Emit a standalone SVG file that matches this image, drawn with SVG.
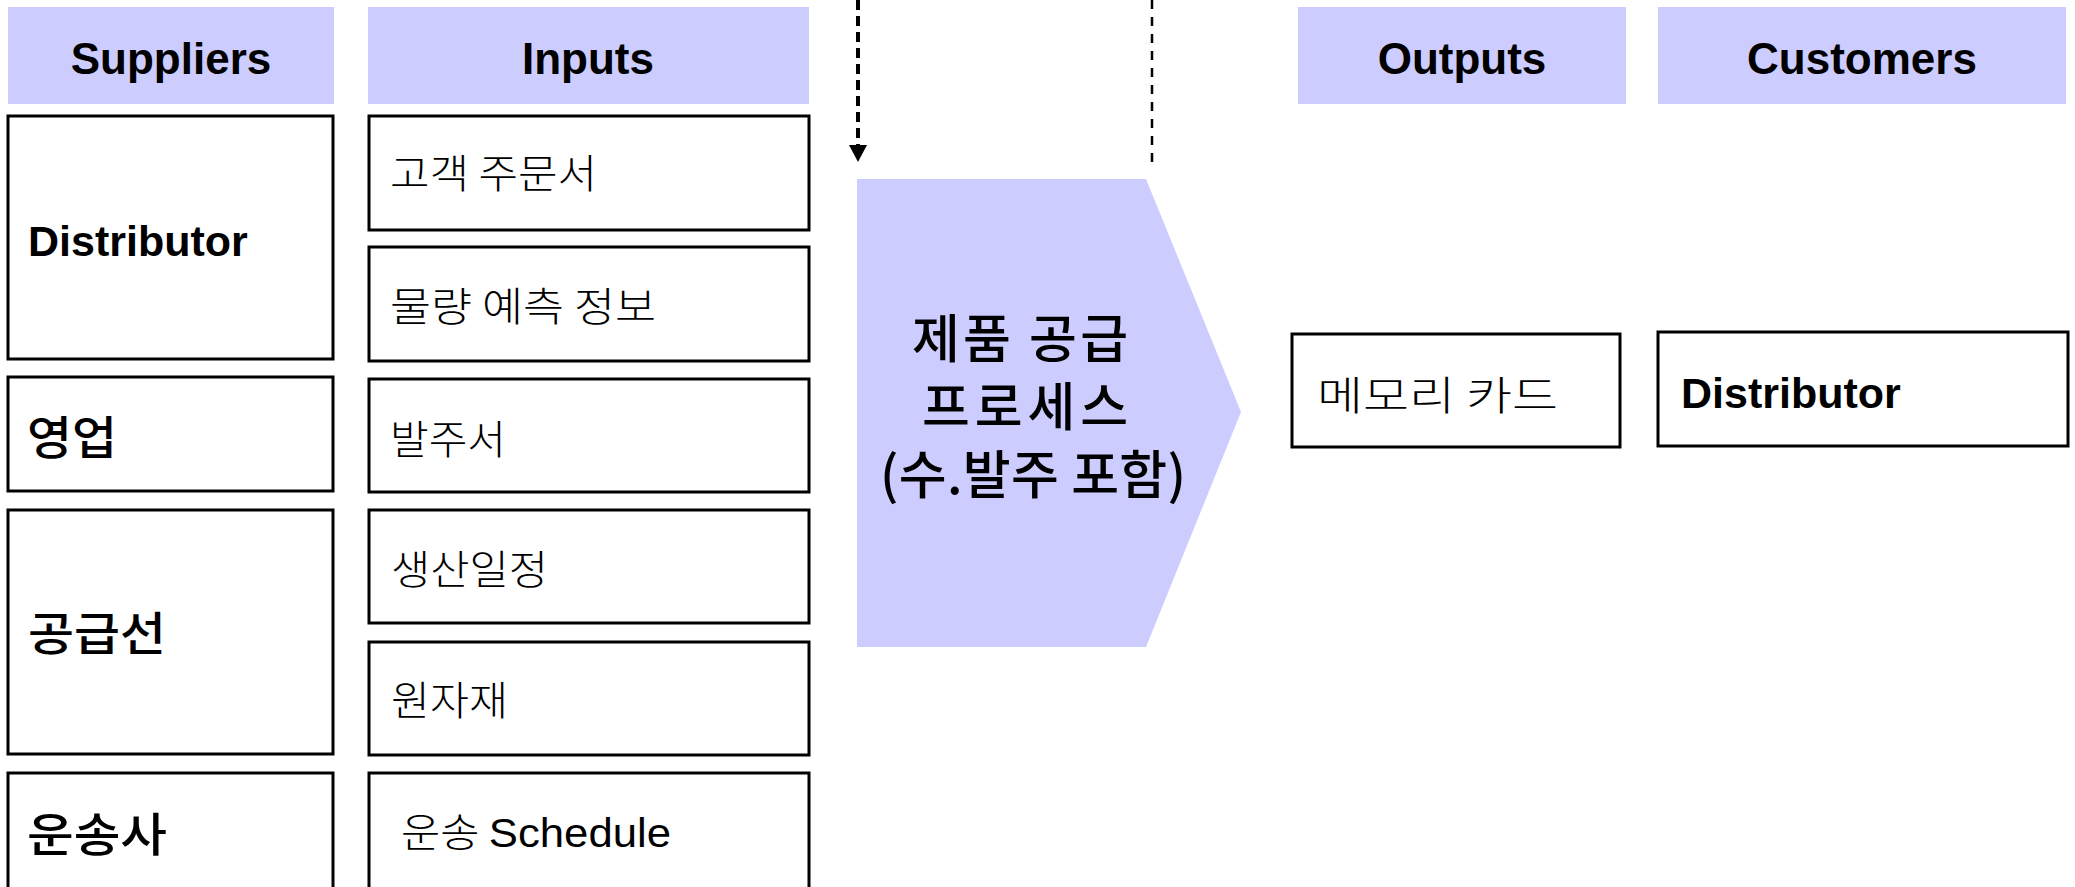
<svg xmlns="http://www.w3.org/2000/svg" width="2075" height="887" viewBox="0 0 2075 887">
<style>
.hdr{fill:#CCCCFF;stroke:none}
.hdrt{font-family:"Liberation Sans",Arial,sans-serif;font-weight:bold;font-size:44px;fill:#000;text-anchor:middle}
.box{fill:#fff;stroke:#000;stroke-width:3}
.lat{font-family:"Liberation Sans",Arial,sans-serif;font-weight:bold;font-size:43px;fill:#000}
.sup{font-family:"Noto Sans CJK KR","Noto Sans",sans-serif;font-weight:500;font-size:46px;fill:#000}
.kin{font-family:"Noto Sans CJK KR",sans-serif;font-weight:300;font-size:40px;fill:#000}
.sch{font-family:"Liberation Sans",Arial,sans-serif;font-weight:normal;font-size:41px}
.proc{fill:#CCCCFF;stroke:none}
.proct{font-family:"Noto Sans CJK KR",sans-serif;font-weight:500;font-size:52px;fill:#000}
</style>
<g id="header-suppliers"><rect class="hdr" x="8" y="7" width="326" height="97"/><text class="hdrt" x="171" y="74">Suppliers</text></g>
<g id="header-inputs"><rect class="hdr" x="368" y="7" width="441" height="97"/><text class="hdrt" x="588" y="74">Inputs</text></g>
<g id="header-outputs"><rect class="hdr" x="1298" y="7" width="328" height="97"/><text class="hdrt" x="1462" y="74">Outputs</text></g>
<g id="header-customers"><rect class="hdr" x="1658" y="7" width="408" height="97"/><text class="hdrt" x="1862" y="74">Customers</text></g>

<g id="sup-distributor"><rect class="box" x="8" y="116" width="325" height="243"/><text class="lat" x="28" y="256">Distributor</text></g>
<g id="sup-sales"><rect class="box" x="8" y="377" width="325" height="114"/><text class="sup" x="27" y="454" textLength="90" lengthAdjust="spacingAndGlyphs">영업</text></g>
<g id="sup-supplier"><rect class="box" x="8" y="510" width="325" height="244"/><text class="sup" x="28" y="650" textLength="138" lengthAdjust="spacingAndGlyphs">공급선</text></g>
<g id="sup-carrier"><rect class="box" x="8" y="773" width="325" height="120"/><text class="sup" x="27" y="851" textLength="140" lengthAdjust="spacingAndGlyphs">운송사</text></g>

<g id="in-order"><rect class="box" x="369" y="116" width="440" height="114"/><text class="kin" x="390" y="188" textLength="207" lengthAdjust="spacingAndGlyphs">고객 주문서</text></g>
<g id="in-forecast"><rect class="box" x="369" y="247" width="440" height="114"/><text class="kin" x="390" y="321" textLength="266" lengthAdjust="spacingAndGlyphs">물량 예측 정보</text></g>
<g id="in-po"><rect class="box" x="369" y="379" width="440" height="113"/><text class="kin" x="390" y="454" textLength="116" lengthAdjust="spacingAndGlyphs">발주서</text></g>
<g id="in-schedule"><rect class="box" x="369" y="510" width="440" height="113"/><text class="kin" x="391" y="584" textLength="157" lengthAdjust="spacingAndGlyphs">생산일정</text></g>
<g id="in-material"><rect class="box" x="369" y="642" width="440" height="113"/><text class="kin" x="391" y="715" textLength="117" lengthAdjust="spacingAndGlyphs">원자재</text></g>
<g id="in-transport"><rect class="box" x="369" y="773" width="440" height="120"/><text class="kin" x="401" y="847" textLength="270" lengthAdjust="spacingAndGlyphs">운송 <tspan class="sch">Schedule</tspan></text></g>

<g id="process"><polygon class="proc" points="857,179 1146,179 1241,412 1146,647 857,647"/>
<text class="proct" x="912" y="358" textLength="216">제품 공급</text>
<text class="proct" x="922" y="426" textLength="206">프로세스</text>
<text class="proct" x="880" y="494" textLength="306">(수.발주 포함)</text></g>

<g id="out-memory"><rect class="box" x="1292" y="334" width="328" height="113"/><text class="kin" x="1317" y="410" font-size="44" textLength="241" lengthAdjust="spacingAndGlyphs">메모리 카드</text></g>
<g id="cust-distributor"><rect class="box" x="1658" y="332" width="410" height="114"/><text class="lat" x="1681" y="408">Distributor</text></g>

<g id="connectors">
<line x1="858" y1="0" x2="858" y2="146" stroke="#000" stroke-width="4" stroke-dasharray="10 6"/>
<polygon points="849,145 867,145 858,162" fill="#000"/>
<line x1="1152" y1="0" x2="1152" y2="164" stroke="#000" stroke-width="2.5" stroke-dasharray="9 8"/>
</g>
</svg>
